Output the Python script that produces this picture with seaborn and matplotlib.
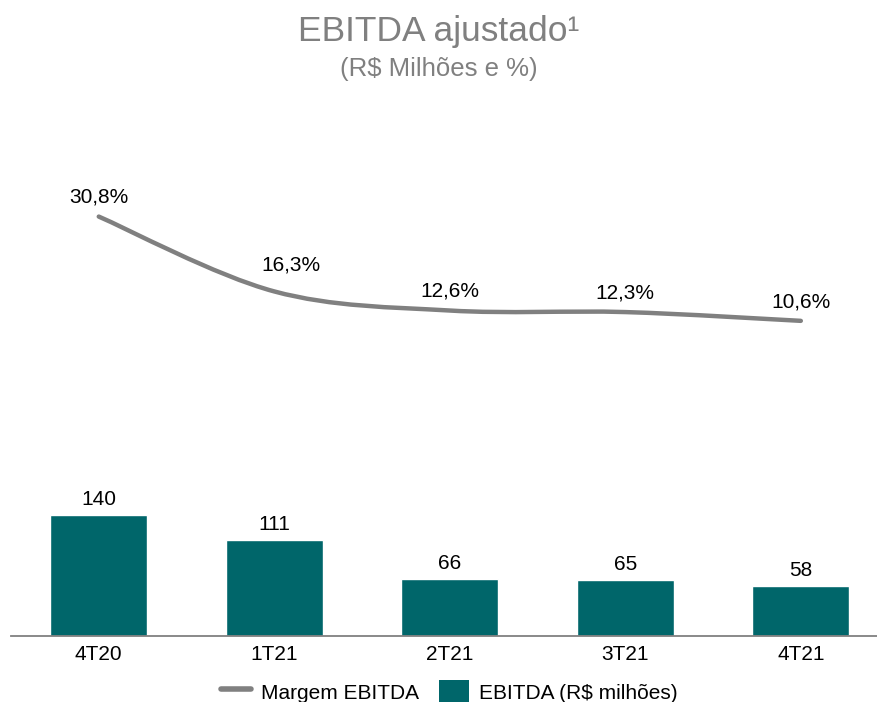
import matplotlib
matplotlib.use("Agg")
import matplotlib.pyplot as plt
import seaborn as sns
import pandas as pd
from matplotlib.path import Path
from matplotlib.patches import PathPatch, Patch
from matplotlib.lines import Line2D

# data
quarters = ["4T20", "1T21", "2T21", "3T21", "4T21"]
ebitda = [140, 111, 66, 65, 58]
margem = [30.8, 16.3, 12.6, 12.3, 10.6]

TEAL = "#00666A"
GRAY = "#808080"

sns.set_theme(style="white")
plt.rcParams["font.family"] = ["Liberation Sans", "DejaVu Sans"]
plt.rcParams["text.color"] = "black"

df = pd.DataFrame({"trimestre": quarters, "ebitda": ebitda, "margem": margem})

fig = plt.figure(figsize=(8.77, 7.02), dpi=100)
W, H = 877, 702
base_px, top_px = 635.7, 150
ax = fig.add_axes([11 / W, (H - base_px) / H, (W - 11) / W, (base_px - top_px) / H])

sns.barplot(data=df, x="trimestre", y="ebitda", color=TEAL, saturation=1,
            width=0.553, ax=ax)
ax.set_xlim(-0.5, 4.434)
ax.set_ylim(0, 563.5)
ax.bar_label(ax.containers[0], labels=[f"{v:d}" for v in ebitda],
             padding=4, fontsize=15, color="black")

for side in ["top", "right", "left"]:
    ax.spines[side].set_visible(False)
ax.spines["bottom"].set_color(GRAY)
ax.spines["bottom"].set_linewidth(1.3)
ax.set_yticks([])
ax.set_xlabel("")
ax.set_ylabel("")
ax.tick_params(axis="x", length=0, pad=7, labelsize=15, labelcolor="black")

# margin line on a secondary axis, smoothed like the original (bezier through the data points)
ax2 = ax.twinx()
ax2.set_ylim(-50.4, 43.7)
ax2.set_axis_off()

pts = list(zip(range(len(margem)), margem))
verts = [pts[0]]
codes = [Path.MOVETO]
for i in range(len(pts) - 1):
    p0 = pts[max(i - 1, 0)]
    p1 = pts[i]
    p2 = pts[i + 1]
    p3 = pts[min(i + 2, len(pts) - 1)]
    c1 = (p1[0] + (p2[0] - p0[0]) / 6, p1[1] + (p2[1] - p0[1]) / 6)
    c2 = (p2[0] - (p3[0] - p1[0]) / 6, p2[1] - (p3[1] - p1[1]) / 6)
    verts += [c1, c2, p2]
    codes += [Path.CURVE4] * 3
ax2.add_patch(PathPatch(Path(verts, codes), fill=False, edgecolor=GRAY,
                        linewidth=3.2, capstyle="round", transform=ax2.transData))

label_offsets = [(0, 7), (12, 12), (0, 7), (0, 7), (0, 7)]
for i, v in enumerate(margem):
    ax2.annotate(f"{v:.1f}%".replace(".", ","), (i, v), xytext=label_offsets[i],
                 textcoords="offset points", ha="center", va="bottom",
                 fontsize=15, color="black")

# titles
fig.text(0.5, 1 - 31 / H, "EBITDA ajustado\u00b9", ha="center", va="center",
         fontsize=25.5, color=GRAY)
fig.text(0.5, 1 - 69 / H, "(R$ Milhões e %)", ha="center", va="center",
         fontsize=18.5, color=GRAY)

handles = [Line2D([0], [0], color=GRAY, linewidth=4),
           Patch(facecolor=TEAL, edgecolor="none")]
fig.legend(handles, ["Margem EBITDA", "EBITDA (R$ milhões)"], ncol=2,
           loc="center", bbox_to_anchor=(449 / W, (H - 692) / H), frameon=False,
           fontsize=15, handlelength=1.44, handleheight=1.45, labelcolor="black",
           handletextpad=0.48, columnspacing=0.96, borderpad=0)

fig.savefig("out.png", dpi=100)
